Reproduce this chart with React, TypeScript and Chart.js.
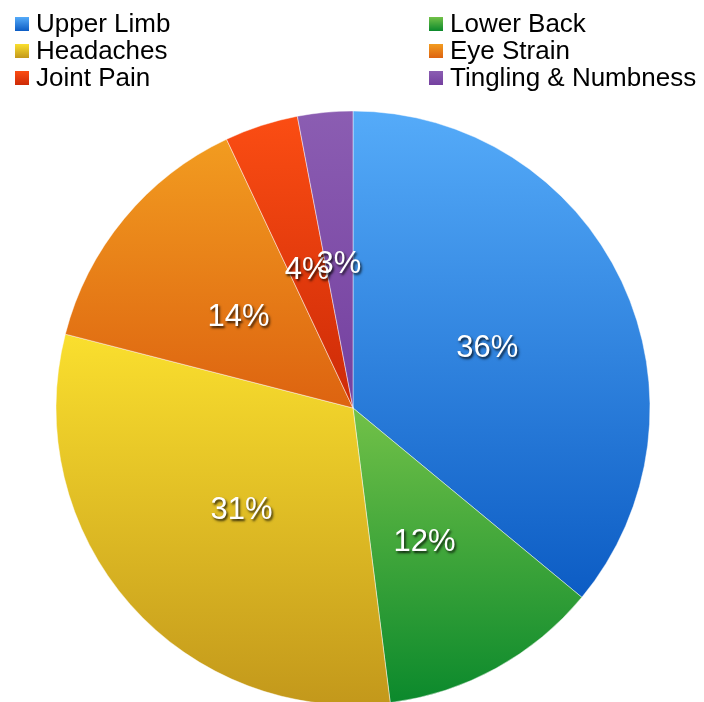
import React, { useEffect, useRef } from "react";
import { Chart, registerables } from "chart.js";

Chart.register(...registerables);

// Share of reported symptoms (percent), clockwise from the top
const categories = [
  "Upper Limb",
  "Lower Back",
  "Headaches",
  "Eye Strain",
  "Joint Pain",
  "Tingling & Numbness",
];
const shares = [36, 12, 31, 14, 4, 3];

// Vertical gradient stops per slice: [top, bottom]
const topColors = ["#55abf9", "#72c148", "#fadf2e", "#f29c20", "#fb4d13", "#8b5db2"];
const bottomColors = ["#0c5cc4", "#0b892c", "#c3981b", "#dd6310", "#cd2a07", "#74409f"];

// Legend layout: two columns, three rows, filled column-wise by pairs
const legendColumns = [15, 429];
const legendTop = 17;
const legendRowGap = 27;

const PIE_RADIUS = 297;

function sliceBounds(index: number, cy: number, r: number) {
  const total = shares.reduce((a, b) => a + b, 0);
  let start = 0;
  for (let i = 0; i < index; i++) start += shares[i];
  const end = start + shares[index];
  const a0 = (start / total) * Math.PI * 2;
  const a1 = (end / total) * Math.PI * 2;
  const ys = [cy, cy - r * Math.cos(a0), cy - r * Math.cos(a1)];
  if (a0 <= 0.0001 || a1 >= Math.PI * 2 - 0.0001) ys.push(cy - r);
  if (a0 <= Math.PI && a1 >= Math.PI) ys.push(cy + r);
  return { top: Math.min(...ys), bottom: Math.max(...ys) };
}

const sliceLabels = {
  id: "sliceLabels",
  afterDatasetsDraw(chart: any) {
    const ctx = chart.ctx;
    const meta = chart.getDatasetMeta(0);
    ctx.save();
    ctx.font = '31px "Liberation Sans", Arial, sans-serif';
    ctx.textAlign = "center";
    ctx.textBaseline = "middle";
    ctx.shadowColor = "rgba(0,0,0,0.8)";
    ctx.shadowOffsetX = 1.5;
    ctx.shadowOffsetY = 2;
    ctx.shadowBlur = 2.5;
    ctx.fillStyle = "#ffffff";
    meta.data.forEach((arc: any, i: number) => {
      const p = arc.tooltipPosition();
      ctx.fillText(`${shares[i]}%`, p.x, p.y + 4);
    });
    ctx.restore();
  },
};

const gridLegend = {
  id: "gridLegend",
  afterDraw(chart: any) {
    const ctx = chart.ctx;
    ctx.save();
    ctx.font = '26px "Liberation Sans", Arial, sans-serif';
    ctx.textBaseline = "alphabetic";
    ctx.textAlign = "left";
    categories.forEach((name, i) => {
      const col = i % 2;
      const row = Math.floor(i / 2);
      const x = legendColumns[col];
      const y = legendTop + row * legendRowGap;
      const g = ctx.createLinearGradient(0, y, 0, y + 14);
      g.addColorStop(0, topColors[i]);
      g.addColorStop(1, bottomColors[i]);
      ctx.fillStyle = g;
      ctx.fillRect(x, y, 14, 14);
      ctx.fillStyle = "#000000";
      ctx.fillText(name, x + 21, y + 15);
    });
    ctx.restore();
  },
};

export default function App() {
  const canvasRef = useRef<HTMLCanvasElement | null>(null);

  useEffect(() => {
    if (!canvasRef.current) return;
    const chart = new Chart(canvasRef.current, {
      type: "pie",
      data: {
        labels: categories,
        datasets: [
          {
            data: shares,
            radius: PIE_RADIUS,
            borderWidth: 1,
            borderColor: "rgba(255,255,255,0.45)",
            backgroundColor: (c: any) => {
              const area = c.chart.chartArea;
              const i = c.dataIndex;
              if (!area || i === undefined) return topColors[i ?? 0];
              const cy = (area.top + area.bottom) / 2;
              const b = sliceBounds(i, cy, PIE_RADIUS);
              const g = c.chart.ctx.createLinearGradient(0, b.top, 0, b.bottom);
              g.addColorStop(0, topColors[i]);
              g.addColorStop(1, bottomColors[i]);
              return g;
            },
          },
        ],
      },
      options: {
        responsive: false,
        animation: false,
        devicePixelRatio: 1,
        layout: { padding: { top: 114, bottom: 0, left: 2, right: 0 } },
        plugins: {
          legend: { display: false },
          tooltip: { enabled: false },
        },
      },
      plugins: [sliceLabels, gridLegend],
    });
    return () => chart.destroy();
  }, []);

  return (
    <div style={{ position: "fixed", left: 0, top: 0, width: 704, height: 702, background: "#fff" }}>
      <canvas ref={canvasRef} width={704} height={702} />
    </div>
  );
}
